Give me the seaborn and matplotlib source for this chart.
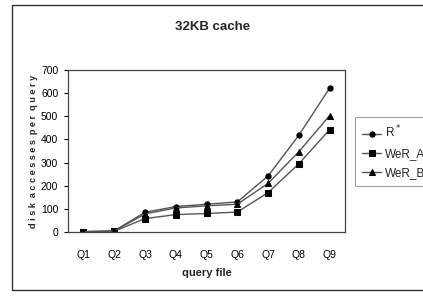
import pandas as pd
import matplotlib
matplotlib.use("Agg")
import matplotlib.pyplot as plt
import seaborn as sns
from matplotlib.patches import Rectangle

queries = ["Q1", "Q2", "Q3", "Q4", "Q5", "Q6", "Q7", "Q8", "Q9"]
r_star = [2, 5, 85, 110, 120, 130, 242, 418, 622]
wer_a = [1, 3, 58, 75, 80, 86, 170, 295, 442]
wer_b = [1, 4, 78, 104, 113, 120, 210, 347, 503]
series_names = ["R$^*$", "WeR_A", "WeR_B"]

df = pd.DataFrame({
    "query": queries * 3,
    "accesses": r_star + wer_a + wer_b,
    "series": [series_names[0]] * 9 + [series_names[1]] * 9 + [series_names[2]] * 9,
})

sns.set_style("white")
plt.rcParams["font.family"] = ["Liberation Sans", "DejaVu Sans"]

fig = plt.figure(figsize=(4.23, 3.03), dpi=100)
ax = fig.add_axes([68 / 423, 71 / 303, 277 / 423, 162 / 303])

sns.lineplot(data=df, x="query", y="accesses", hue="series", style="series",
             markers=["o", "s", "^"], dashes=False, sort=False,
             palette=["#555555"] * 3, markersize=3.8, linewidth=1.0,
             markerfacecolor="black", markeredgecolor="black", ax=ax)

ax.set_xlim(-0.5, 8.5)
ax.set_ylim(0, 700)
ax.set_yticks(range(0, 701, 100))
ax.set_xlabel("query file", fontsize=8, fontweight="bold", labelpad=6)
ax.set_ylabel("d i s k  a c c e s s e s  p e r  q u e r y", fontsize=6.6,
              fontweight="bold")
ax.yaxis.set_label_coords(-0.11, 0.5)
ax.tick_params(axis="both", labelsize=7.5, colors="black")
ax.tick_params(axis="x", length=0, pad=13)
ax.tick_params(axis="y", length=3, left=True, pad=4)
for s in ax.spines.values():
    s.set_color("#444444")
    s.set_linewidth(0.9)

fig.text(213 / 423, 1 - 27 / 303, "32KB cache", ha="center", va="center",
         fontsize=9.5, fontweight="bold")

handles, labels = ax.get_legend_handles_labels()
ax.get_legend().remove()
leg = fig.legend(handles, labels, loc="upper left",
                 bbox_to_anchor=(355 / 423, 1 - 117 / 303), fontsize=8.5,
                 frameon=True, fancybox=False, edgecolor="#888888",
                 handlelength=1.6, handletextpad=0.3, labelspacing=0.6,
                 borderpad=0.6, borderaxespad=0)
leg.get_frame().set_linewidth(0.8)

fig.patches.append(Rectangle((12 / 423, 13 / 303), 1.2, 285 / 303,
                             transform=fig.transFigure, fill=False,
                             edgecolor="#333333", linewidth=1.0))

fig.savefig("out.png", dpi=100)
